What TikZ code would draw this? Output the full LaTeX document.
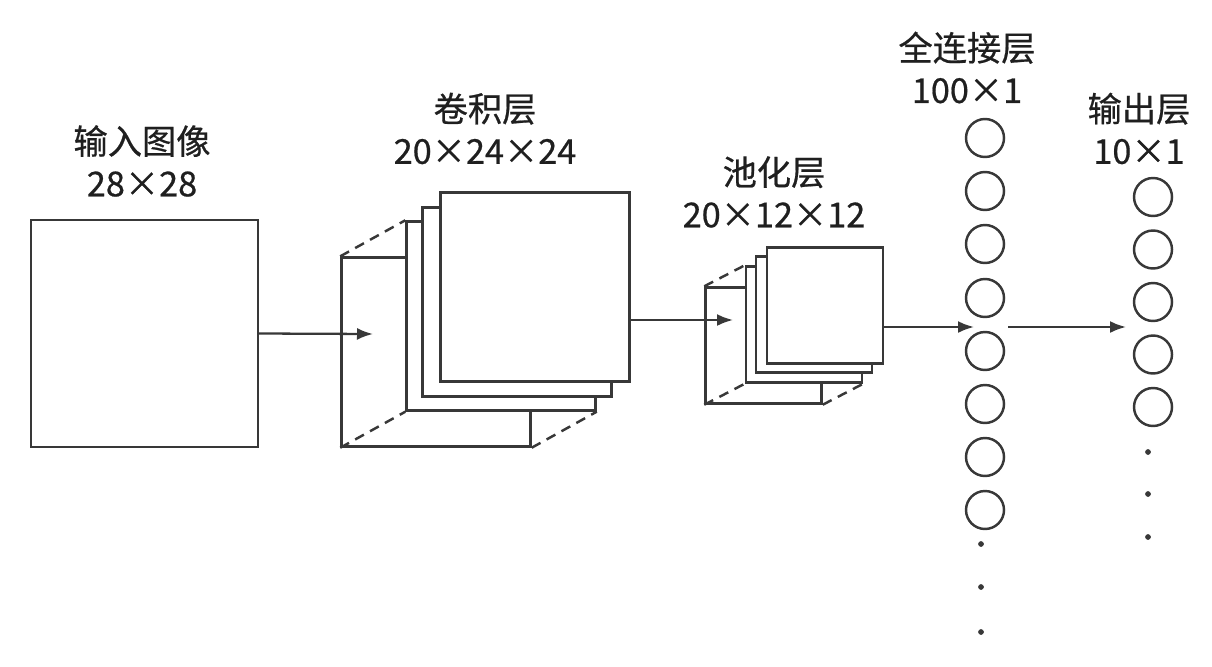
\documentclass[tikz,border=0pt]{standalone}
\usepackage{fontspec}
\setmainfont{Noto Sans CJK SC}[FakeBold=0.6]
\usetikzlibrary{arrows.meta}
\colorlet{edgecolor}{black!78}
\tikzset{
    % --- layer styles ---
    sheet/.style={draw=edgecolor, fill=white, line width=1.4pt, minimum size=3.78cm, inner sep=0pt},
    small_sheet/.style={sheet, minimum size=2.32cm},
    hidden_edge/.style={draw=edgecolor, line width=1.4pt, dash pattern=on 0.2cm off 0.14cm},
    neuron/.style={circle, draw=edgecolor, line width=1.4pt, minimum size=0.76cm, inner sep=0pt},
    flow/.style={draw=edgecolor, line width=1.3pt, -{Latex[length=0.32cm,width=0.24cm]}},
    caption/.style={align=center, text=black!88, font=\fontsize{19.5pt}{24pt}\selectfont}
}

\begin{document}
\begin{tikzpicture}[x=0.02cm, y=-0.02cm]
    \useasboundingbox (0,0) rectangle (1212,666);

    % input image
    \node[sheet, minimum size=4.54cm] (input) at (144.5,333.5) {};
    \node[caption] (input_label) at (142,161) {输入图像\\28×28};

    % convolution layer
    \node[sheet] (conv0) at (436,352) {};
    \node[sheet] (conv1) at (501,316) {};
    \node[sheet] (conv2) at (517,302) {};
    \node[sheet] (conv3) at (535,287) {};
    \draw[hidden_edge] (conv0.north west) -- (conv1.north west);
    \draw[hidden_edge] (conv0.south west) -- (conv1.south west);
    \draw[hidden_edge] (conv0.south east) -- (conv1.south east);
    \node[caption] (conv_label) at (485,128.5) {卷积层\\20×24×24};

    % pooling layer
    \node[small_sheet] (pool0) at (763.5,345.5) {};
    \node[small_sheet] (pool1) at (804,324.5) {};
    \node[small_sheet] (pool2) at (814,314.5) {};
    \node[small_sheet] (pool3) at (825,305.5) {};
    \draw[hidden_edge] (pool0.north west) -- (pool1.north west);
    \draw[hidden_edge] (pool0.south west) -- (pool1.south west);
    \draw[hidden_edge] (pool0.south east) -- (pool1.south east);
    \node[caption] (pool_label) at (774,192) {池化层\\20×12×12};

    % fully connected layer
    \node[neuron] (fc1) at (985,138) {};
    \node[neuron] (fc2) at (985,191) {};
    \node[neuron] (fc3) at (985,244) {};
    \node[neuron] (fc4) at (985,298) {};
    \node[neuron] (fc5) at (985,351) {};
    \node[neuron] (fc6) at (985,404) {};
    \node[neuron] (fc7) at (985,457) {};
    \node[neuron] (fc8) at (985,510) {};
    \filldraw[edgecolor] (981,544) circle (1.4pt);
    \filldraw[edgecolor] (981,587) circle (1.4pt);
    \filldraw[edgecolor] (981,632) circle (1.4pt);
    \node[caption] (fc_label) at (967,67.5) {全连接层\\100×1};

    % output layer
    \node[neuron] (out1) at (1153,197) {};
    \node[neuron] (out2) at (1153,249.5) {};
    \node[neuron] (out3) at (1153,302) {};
    \node[neuron] (out4) at (1153,354.5) {};
    \node[neuron] (out5) at (1153,407) {};
    \filldraw[edgecolor] (1148,452) circle (1.4pt);
    \filldraw[edgecolor] (1148,494) circle (1.4pt);
    \filldraw[edgecolor] (1148,537) circle (1.4pt);
    \node[caption] (out_label) at (1139,128.5) {输出层\\10×1};

    % data flow
    \coordinate (conv_in) at (373,334);
    \coordinate (pool_in) at (733,320);
    \coordinate (fc_in) at (974,327);
    \coordinate (fc_out) at (1008,327);
    \coordinate (out_in) at (1126,327);
    \draw[flow] (input.east) -- (conv_in);
    \draw[flow] (conv3.east |- pool_in) -- (pool_in);
    \draw[flow] (pool3.east |- fc_in) -- (fc_in);
    \draw[flow] (fc_out) -- (out_in);
\end{tikzpicture}
\end{document}
